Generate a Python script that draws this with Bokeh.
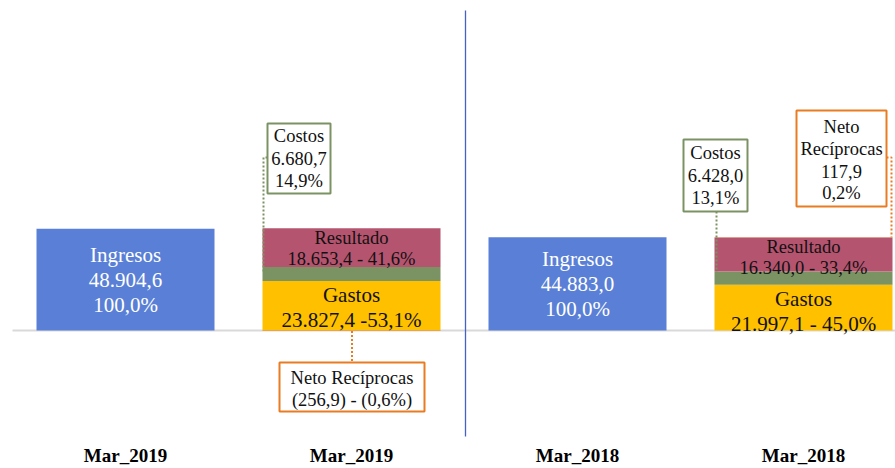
import numpy as np
from bokeh.plotting import figure
from bokeh.models import Range1d
from bokeh.core.properties import value
from bokeh.embed import file_html
from bokeh.resources import INLINE

# ---------------- data ----------------
periods = ["Mar_2019", "Mar_2019", "Mar_2018", "Mar_2018"]
ingresos = [48904.6, 44883.0]
gastos = [23827.4, 21997.1]
costos = [6680.7, 6428.0]
resultado = [18653.4, 16340.0]
neto = [-256.9, 117.9]
ingresos_pct = ["100,0%", "100,0%"]
gastos_pct = ["53,1%", "45,0%"]
costos_pct = ["14,9%", "13,1%"]
resultado_pct = ["41,6%", "33,4%"]
neto_pct = ["(0,6%)", "0,2%"]
gastos_sep = [" -", " - "]

# ---------------- colours / style ----------------
C_ING = "#5a7fd6"
C_GAS = "#ffc000"
C_COS = "#7b9262"
C_RES = "#b5546f"
C_NET = "#e97c22"
FONT = value("Liberation Serif")

W, H = 895, 468
KY = 0.00208          # px per unit (vertical)
KX = 226.0            # px per category step
X0 = 125.0            # x of first category
Y0 = 330.0            # y of the zero line
BW = 178.0 / KX       # bar width in category units


def X(px):
    return (px - X0) / KX


def Y(py):
    return (Y0 - py) / KY


def fmt(v):
    s = f"{abs(v):,.1f}".replace(",", "X").replace(".", ",").replace("X", ".")
    return s


p = figure(width=W, height=H, x_range=Range1d(X(0), X(W)),
           y_range=Range1d(Y(H), Y(0)), min_border=0,
           toolbar_location=None, output_backend="svg",
           x_axis_location=None, y_axis_location=None)
p.grid.visible = False
p.outline_line_color = None
p.background_fill_color = "white"
p.border_fill_color = "white"

xi = np.array([0.0, 2.0])
xs = np.array([1.0, 3.0])
g = np.array(gastos)
c = np.array(costos)
r = np.array(resultado)
n = np.array(neto)

# zero line
p.line([X(12), X(W)], [0, 0], line_color="#d9d9d9", line_width=2)

# bars
p.vbar(x=xi, top=ingresos, bottom=0, width=BW, fill_color=C_ING, line_color=None)
p.vbar(x=xs, top=g, bottom=0, width=BW, fill_color=C_GAS, line_color=None)
p.vbar(x=xs, top=g + c, bottom=g, width=BW, fill_color=C_COS, line_color=None)
p.vbar(x=xs, top=g + c + r, bottom=g + c, width=BW, fill_color=C_RES, line_color=None)
nb = np.where(n >= 0, g + c + r, 0.0)
p.vbar(x=xs, top=nb + n, bottom=nb, width=BW, fill_color=C_NET, line_color=None)

# separator
p.line([X(465), X(465)], [Y(10), Y(436)], line_color="#4660c8", line_width=1.3)


def txt(x, y, s, size, color="#111111", style="normal"):
    p.text(x=[x], y=[y], text=[s], text_font=FONT, text_font_size=size,
           text_color=color, text_align="center", text_baseline="middle",
           text_font_style=style)


# Ingresos labels
for i in range(2):
    mid = ingresos[i] / 2
    for k, s in enumerate(["Ingresos", fmt(ingresos[i]), ingresos_pct[i]]):
        txt(xi[i], mid + (25 - 25 * k) / KY, s, "21px", color="white")

# Resultado labels
for i in range(2):
    top = g[i] + c[i] + r[i]
    txt(xs[i], top - 10 / KY, "Resultado", "18.5px")
    txt(xs[i], top - 31 / KY, f"{fmt(r[i])} - {resultado_pct[i]}", "18.5px")

# Gastos labels
for i in range(2):
    txt(xs[i], g[i] - 14 / KY, "Gastos", "21px")
    txt(xs[i], g[i] - 39 / KY, f"{fmt(g[i])}{gastos_sep[i]}{gastos_pct[i]}", "21px")

# ---- Costos call-outs ----
bar_left = [X0 + KX * xs[i] - BW * KX / 2 for i in range(2)]   # screen x
cos_box = [(bar_left[0] + 36.5, 158, 63, 70), (bar_left[1] + 1, 175, 64, 72)]
for i in range(2):
    cx, cy, w, h = cos_box[i]
    if i == 0:
        p.line([X(cx - w / 2), X(bar_left[0] + 1), X(bar_left[0] + 1)],
               [Y(157), Y(157), g[0] + c[0] * 0.55],
               line_color=C_COS, line_width=2, line_dash="2 2")
    else:
        p.line([X(bar_left[1] + 2), X(bar_left[1] + 2)],
               [Y(cy + h / 2), g[1] + c[1] * 0.6],
               line_color=C_COS, line_width=2, line_dash="2 2")
    p.rect(x=[X(cx)], y=[Y(cy)], width=w, height=h, width_units="screen",
           height_units="screen", fill_color="white", line_color=C_COS, line_width=2)
    for k, s in enumerate(["Costos", fmt(c[i]), costos_pct[i]]):
        txt(X(cx), Y(cy - 22.5 + 22.5 * k), s, "18.5px")

# ---- Neto Recíprocas call-outs ----
# 2019 (negative, below the zero line)
cx0 = X0 + KX * xs[0]
p.line([X(cx0 + 0.5), X(cx0 + 0.5)], [n[0], Y(362)], line_color=C_NET,
       line_width=2, line_dash="2 2")
p.rect(x=[X(cx0 + 0.5)], y=[Y(386.5)], width=145, height=49, width_units="screen",
       height_units="screen", fill_color="white", line_color=C_NET, line_width=2)
txt(X(cx0 + 0.5), Y(377), "Neto Recíprocas", "18.5px")
txt(X(cx0 + 0.5), Y(399), f"({fmt(n[0])}) - {neto_pct[0]}", "18.5px")

# 2018 (positive, on top of stack)
bar_right = X0 + KX * xs[1] + BW * KX / 2
bx, by = bar_right - 51, 158
p.line([X(bx + 45), X(bar_right - 1), X(bar_right - 1)],
       [Y(157), Y(157), g[1] + c[1] + r[1] + n[1]],
       line_color=C_NET, line_width=2, line_dash="2 2")
p.rect(x=[X(bx)], y=[Y(by)], width=90, height=96, width_units="screen",
       height_units="screen", fill_color="white", line_color=C_NET, line_width=2)
for k, s in enumerate(["Neto", "Recíprocas", fmt(n[1]), neto_pct[1]]):
    txt(X(bx), Y(126 + 22.3 * k), s, "18.5px")

# category labels
p.text(x=[0, 1, 2, 3], y=[Y(455)] * 4, text=periods, text_font=FONT,
       text_font_size="19px", text_font_style="bold", text_color="#000000",
       text_align="center", text_baseline="middle")

open("out.html", "w").write(file_html(p, INLINE))
